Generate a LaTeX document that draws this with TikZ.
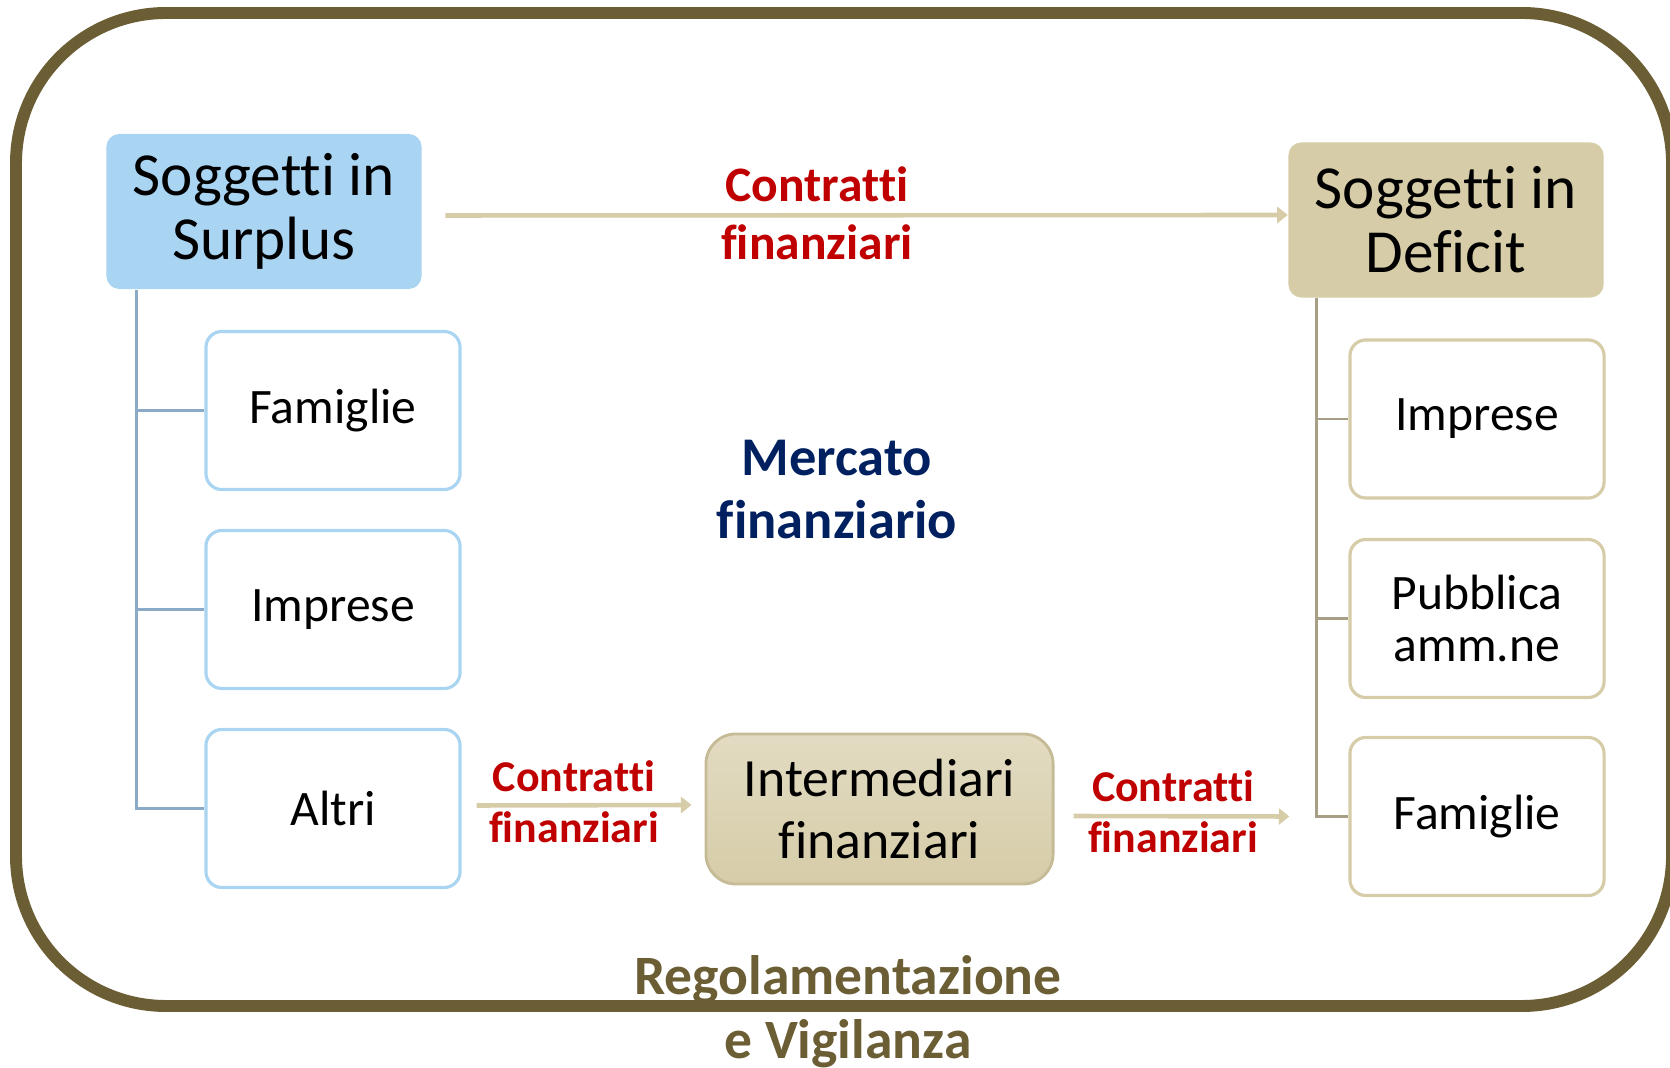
\documentclass[tikz,border=0pt]{standalone}
\usepackage{fontspec}
\setmainfont[Ligatures=NoCommon]{Carlito}
\usepackage{xcolor}
\usepackage{tikz}
\usetikzlibrary{calc,arrows.meta}
\definecolor{olive}{HTML}{6B5E34}
\definecolor{sky}{HTML}{A9D4F2}
\definecolor{skyline}{HTML}{8AAAC8}
\definecolor{sand}{HTML}{D6CCA8}
\definecolor{sandline}{HTML}{A79E86}
\definecolor{red}{HTML}{C00000}
\definecolor{navy}{HTML}{002060}
\tikzset{
  head/.style={rounded corners=0.13cm, inner sep=0pt, minimum width=3.15cm, minimum height=1.55cm, align=center, font=\fontsize{17.4}{18.2}\selectfont},
  lbox/.style={draw=sky, line width=0.9pt, fill=white, rounded corners=0.16cm, inner sep=0pt, minimum width=2.54cm, minimum height=1.58cm, align=center, font=\fontsize{14.1}{14.8}\selectfont},
  rbox/.style={lbox, draw=sand},
  ltrunk/.style={draw=skyline, line width=0.75pt},
  rtrunk/.style={draw=sandline, line width=0.75pt},
  flow/.style={draw=sand, line width=1.3pt, -{Triangle[length=3pt,width=4.6pt]}},
  contr/.style={text=red, font=\bfseries\fontsize{14.1}{16.4}\selectfont, align=center},
  smallcontr/.style={text=red, font=\bfseries\fontsize{12.5}{14.5}\selectfont, align=center}
}

\begin{document}
\begin{tikzpicture}[x=0.01cm, y=-0.01cm]
  \useasboundingbox (0,0) rectangle (1670,1068);
  \clip (0,0) rectangle (1670,1068);

  % outer frame
  \draw[olive, line width=3.4pt, rounded corners=1.5cm] (16,13) rectangle (1672,1006);

  % main nodes
  \node[head, fill=sky] (sur) at (264,211.5) {Soggetti in\\Surplus};
  \node[head, fill=sand] (def) at (1446,220) {Soggetti in\\Deficit};
  \node[head, draw=sand!85!olive, line width=0.8pt, top color=sand!70!white, bottom color=sand,
        rounded corners=0.3cm, minimum width=3.47cm, minimum height=1.5cm,
        font=\fontsize{15.3}{17.9}\selectfont] (int) at (879.5,809) {Intermediari\\finanziari};

  % surplus side
  \node[lbox] (lfam) at (333,410.5) {Famiglie};
  \node[lbox] (limp) at (333,609.5) {Imprese};
  \node[lbox] (lalt) at (333,808.5) {Altri};

  % deficit side
  \node[rbox] (rimp) at (1477,419) {Imprese};
  \node[rbox] (rpub) at (1477,618.5) {Pubblica\\amm.ne};
  \node[rbox] (rfam) at (1477,816.5) {Famiglie};

  \draw[ltrunk] ($(sur.south west)+(31,0)$) |- (lfam.west);
  \draw[ltrunk] ($(sur.south west)+(31,0)$) |- (limp.west);
  \draw[ltrunk] ($(sur.south west)+(31,0)$) |- (lalt.west);
  \draw[rtrunk] ($(def.south west)+(29,0)$) |- (rimp.west);
  \draw[rtrunk] ($(def.south west)+(29,0)$) |- (rpub.west);
  \draw[rtrunk] ($(def.south west)+(29,0)$) |- (rfam.west);

  % flows
  \draw[flow] ($(sur.east)+(23,4)$) -- ($(def.west)+(0,-5)$);
  \draw[flow] ($(lalt.east)+(15,-3)$) -- ($(int.west)+(-13,-4)$);
  \draw[flow] ($(int.east)+(19,7)$) -- ($(rfam.west)+(-59,0)$);

  \node[contr] (ctop) at (817,213) {Contratti\\finanziari};
  \node[smallcontr] (cleft) at (574,802) {Contratti\\finanziari};
  \node[smallcontr] (cright) at (1173,812) {Contratti\\finanziari};

  \node[text=navy, font=\bfseries\fontsize{15.5}{17.9}\selectfont, align=center] (mkt) at (837,490) {Mercato\\finanziario};
  \node[text=olive, font=\bfseries\fontsize{15.8}{18.2}\selectfont, align=center] (reg) at (848,1012) {Regolamentazione\\e Vigilanza};
\end{tikzpicture}
\end{document}
